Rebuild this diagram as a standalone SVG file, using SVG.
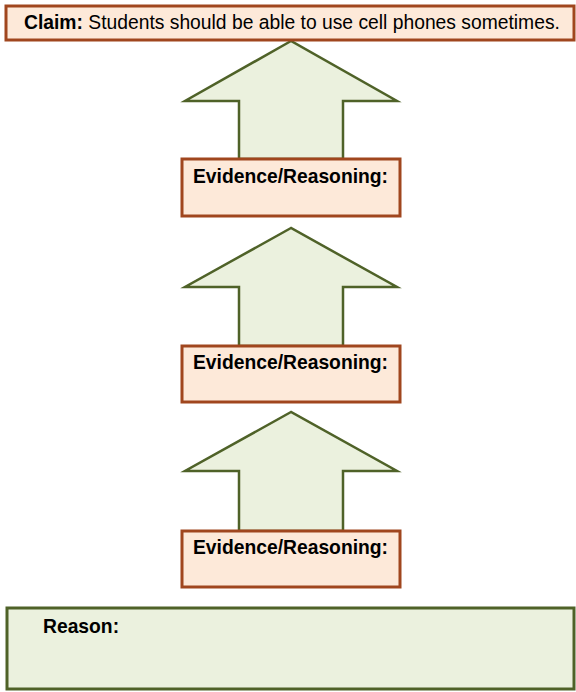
<svg xmlns="http://www.w3.org/2000/svg" width="576" height="692" viewBox="0 0 576 692">
<style>
.peach{fill:#FDE9D9;stroke:#A0461E;stroke-width:3}
.green{fill:#EBF1DE;stroke:#4F6228;stroke-width:3}
.arrow{fill:#EBF1DE;stroke:#4F6228;stroke-width:2.5;stroke-linejoin:miter}
text{font-family:"Liberation Sans",Arial,sans-serif;font-size:19.3px;fill:#000}
.b{font-weight:bold}
</style>
<rect width="576" height="692" fill="#fff"/>
<g id="connectors">
<polygon class="arrow" points="291,41 185,101 239,101 239,159 343,159 343,101 397,101"/>
<polygon class="arrow" points="291,228 185,287 239,287 239,346 343,346 343,287 397,287"/>
<polygon class="arrow" points="291,412 185,471 239,471 239,531 343,531 343,471 397,471"/>
</g>
<g id="claim">
<rect class="peach" x="6" y="6" width="568" height="34"/>
<text x="24" y="29"><tspan class="b">Claim:</tspan> Students should be able to use cell phones sometimes.</text>
</g>
<g id="evidence1">
<rect class="peach" x="182" y="159" width="218" height="57"/>
<text class="b" x="193" y="183">Evidence/Reasoning:</text>
</g>
<g id="evidence2">
<rect class="peach" x="182" y="346" width="218" height="56"/>
<text class="b" x="193" y="369">Evidence/Reasoning:</text>
</g>
<g id="evidence3">
<rect class="peach" x="182" y="531" width="218" height="56"/>
<text class="b" x="193" y="554">Evidence/Reasoning:</text>
</g>
<g id="reason">
<rect class="green" x="7" y="608" width="567" height="81"/>
<text class="b" x="43" y="633">Reason:</text>
</g>
</svg>
